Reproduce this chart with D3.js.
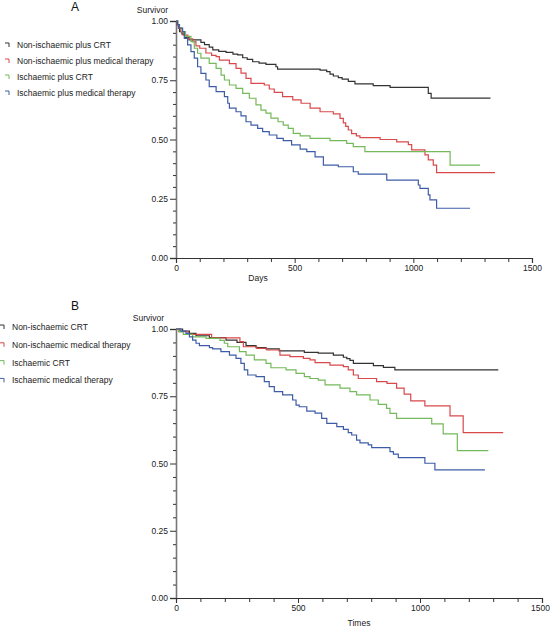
<!DOCTYPE html>
<html><head><meta charset="utf-8">
<script src="https://cdn.jsdelivr.net/npm/d3@7"></script>
<style>
html,body{margin:0;padding:0;background:#fff;}
svg{display:block;font-family:"Liberation Sans",Arial,sans-serif;}
</style></head>
<body>
<svg id="chart" width="550" height="628"></svg>
<script>
// ---------- Data (days, survival) ----------
const seriesNamesA = ["Non-ischaemic plus CRT","Non-ischaemic plus medical therapy","Ischaemic plus CRT","Ischaemic plus medical therapy"];
const seriesNamesB = ["Non-ischaemic CRT","Non-ischaemic medical therapy","Ischaemic CRT","Ischaemic medical therapy"];
const seriesColors = ["#333333","#d9494b","#74b95a","#3e5ca6"];

const aNonIschCRT = [[0,1],[5,0.985],[10,0.97],[15,0.955],[25,0.945],[40,0.93],[55,0.92],[105,0.91],[120,0.9],[140,0.89],[155,0.878],[180,0.872],[211,0.868],[240,0.86],[260,0.857],[281,0.845],[300,0.838],[323,0.828],[350,0.822],[379,0.817],[421,0.807],[428,0.797],[607,0.793],[635,0.786],[649,0.776],[663,0.768],[684,0.761],[700,0.755],[726,0.745],[754,0.735],[831,0.727],[902,0.72],[1063,0.695],[1075,0.675],[1325,0.675]];
const aNonIschMed = [[0,1],[5,0.985],[12,0.97],[20,0.955],[30,0.94],[50,0.925],[70,0.913],[84,0.895],[100,0.885],[126,0.865],[150,0.855],[169,0.85],[183,0.835],[225,0.82],[253,0.8],[274,0.78],[295,0.758],[316,0.737],[372,0.73],[393,0.713],[414,0.699],[449,0.681],[492,0.667],[527,0.653],[565,0.632],[607,0.617],[663,0.608],[691,0.589],[705,0.57],[715,0.555],[726,0.54],[740,0.525],[760,0.515],[775,0.508],[860,0.5],[930,0.49],[979,0.478],[993,0.456],[1049,0.435],[1063,0.414],[1084,0.392],[1098,0.36],[1344,0.36]];
const aIschCRT = [[0,1],[8,0.985],[15,0.97],[25,0.955],[40,0.935],[63,0.913],[77,0.885],[91,0.864],[105,0.843],[140,0.821],[169,0.8],[190,0.772],[204,0.751],[225,0.73],[253,0.716],[281,0.695],[309,0.674],[337,0.646],[358,0.624],[379,0.611],[400,0.59],[430,0.575],[452,0.561],[473,0.547],[494,0.526],[523,0.515],[565,0.505],[649,0.495],[719,0.484],[747,0.47],[796,0.449],[1155,0.392],[1281,0.392]];
const aIschMed = [[0,1],[7,0.985],[14,0.97],[28,0.955],[35,0.927],[49,0.899],[63,0.871],[77,0.843],[91,0.807],[105,0.779],[126,0.751],[140,0.723],[169,0.702],[204,0.681],[218,0.653],[225,0.632],[253,0.617],[274,0.6],[295,0.575],[316,0.561],[344,0.547],[365,0.533],[393,0.519],[425,0.505],[452,0.495],[487,0.477],[523,0.459],[551,0.449],[586,0.427],[621,0.392],[684,0.385],[747,0.364],[768,0.354],[888,0.329],[1021,0.308],[1028,0.294],[1063,0.266],[1070,0.245],[1098,0.21],[1239,0.21]];

const bNonIschCRT = [[0,1],[27,0.992],[55,0.984],[82,0.975],[137,0.968],[205,0.959],[250,0.95],[287,0.938],[328,0.931],[369,0.926],[423,0.919],[526,0.913],[583,0.91],[645,0.903],[686,0.895],[700,0.89],[713,0.883],[727,0.872],[809,0.864],[850,0.857],[897,0.848],[1321,0.848]];
const bNonIschMed = [[0,1],[15,0.99],[50,0.98],[146,0.967],[262,0.953],[276,0.934],[331,0.928],[372,0.922],[426,0.903],[467,0.897],[522,0.891],[549,0.885],[570,0.875],[631,0.866],[686,0.86],[706,0.848],[727,0.829],[747,0.816],[822,0.804],[865,0.798],[904,0.78],[935,0.758],[962,0.733],[1020,0.714],[1123,0.677],[1177,0.615],[1341,0.615]];
const bIschCRT = [[0,1],[10,0.99],[30,0.98],[68,0.971],[123,0.965],[180,0.958],[198,0.947],[212,0.934],[260,0.916],[287,0.903],[321,0.885],[369,0.872],[389,0.856],[451,0.848],[492,0.835],[526,0.823],[549,0.816],[583,0.81],[611,0.792],[672,0.78],[713,0.767],[740,0.755],[795,0.736],[829,0.72],[863,0.705],[877,0.686],[904,0.668],[1048,0.647],[1095,0.61],[1153,0.548],[1280,0.548]];
const bIschMed = [[0,1],[20,0.992],[41,0.984],[55,0.971],[68,0.959],[82,0.947],[96,0.938],[137,0.931],[150,0.926],[184,0.916],[219,0.903],[246,0.891],[266,0.872],[280,0.848],[294,0.829],[328,0.823],[362,0.804],[382,0.786],[403,0.767],[437,0.755],[478,0.736],[492,0.717],[505,0.711],[536,0.695],[570,0.687],[597,0.668],[618,0.649],[659,0.637],[686,0.627],[706,0.615],[720,0.606],[740,0.587],[754,0.577],[788,0.569],[802,0.559],[877,0.544],[891,0.535],[911,0.522],[1020,0.501],[1061,0.476],[1266,0.476]];

const yMajorTicks = [0, 0.25, 0.5, 0.75, 1.0];
const xMajorTicks = [0, 500, 1000, 1500];

// ---------- Drawing ----------
const svg = d3.select("#chart");

function panel(cfg){
  const g = svg.append("g");
  const x = d3.scaleLinear().domain([0,1500]).range([cfg.x0, cfg.x1]);
  const y = d3.scaleLinear().domain([0,1]).range([cfg.y0, cfg.y1]);

  // y axis
  const yAxis = d3.axisLeft(y).tickValues(yMajorTicks).tickFormat(d3.format(".2f")).tickSize(6).tickPadding(2);
  const ya = g.append("g").attr("transform",`translate(${cfg.x0},0)`).call(yAxis);
  ya.select(".domain").attr("stroke","#777").attr("stroke-width",1.6);
  ya.selectAll(".tick line").attr("stroke","#333");
  ya.selectAll(".tick text").attr("font-size",8.5).attr("fill","#222").attr("font-family","Liberation Sans, Arial, sans-serif");
  const yMinor = d3.range(0,1.0001,0.05).filter(v=>!yMajorTicks.some(m=>Math.abs(m-v)<1e-6));
  g.append("g").attr("transform",`translate(${cfg.x0},0)`).call(d3.axisLeft(y).tickValues(yMinor).tickFormat("").tickSize(3))
    .call(s=>{s.select(".domain").remove(); s.selectAll("line").attr("stroke","#333");});

  // x axis
  const xAxis = d3.axisBottom(x).tickValues(xMajorTicks).tickFormat(d3.format("d")).tickSize(5).tickPadding(2);
  const xa = g.append("g").attr("transform",`translate(0,${cfg.y0})`).call(xAxis);
  xa.select(".domain").attr("stroke","#333").attr("stroke-width",1.2);
  xa.selectAll(".tick line").attr("stroke","#333");
  xa.selectAll(".tick text").attr("font-size",8.5).attr("fill","#222").attr("font-family","Liberation Sans, Arial, sans-serif");
  // keep the last tick label inside the canvas
  xa.selectAll(".tick text").filter(d=>d===1500).attr("dx", cfg.lastDx || 0);
  const xMinor = d3.range(100,1500,100).filter(v=>v%500!==0);
  g.append("g").attr("transform",`translate(0,${cfg.y0})`).call(d3.axisBottom(x).tickValues(xMinor).tickFormat("").tickSize(4))
    .call(s=>{s.select(".domain").remove(); s.selectAll("line").attr("stroke","#333");});

  // labels
  g.append("text").attr("x",cfg.titleX).attr("y",cfg.titleY).attr("text-anchor","middle").attr("font-size",cfg.titleSize).attr("fill","#111").text(cfg.title);
  g.append("text").attr("x",cfg.survX).attr("y",cfg.survY).attr("text-anchor","end").attr("font-size",8.5).attr("fill","#222").text("Survivor");
  g.append("text").attr("x",cfg.xlabX).attr("y",cfg.xlabY).attr("text-anchor","middle").attr("font-size",8.5).attr("fill","#222").text(cfg.xlab);

  // curves
  const line = d3.line().x(d=>x(d[0])).y(d=>y(d[1])).curve(d3.curveStepAfter);
  cfg.series.forEach((s,i)=>{
    g.append("path").datum(s).attr("d",line).attr("fill","none")
      .attr("stroke",seriesColors[i]).attr("stroke-width",1.2);
  });

  // legend
  cfg.names.forEach((n,i)=>{
    const ly = cfg.legY + i*cfg.legStep;
    g.append("path").attr("d",`M${cfg.legSymX},${ly-2} h4 v4`).attr("fill","none").attr("stroke",seriesColors[i]).attr("stroke-width",1);
    g.append("text").attr("x",cfg.legTextX).attr("y",ly+3).attr("font-size",8.5).attr("fill","#222").text(n);
  });
}

panel({x0:176,x1:532,y0:258,y1:21,
  series:[aNonIschCRT,aNonIschMed,aIschCRT,aIschMed], names:seriesNamesA,
  title:"A", titleX:75, titleY:11, titleSize:12,
  survX:168, survY:13, xlab:"Days", xlabX:258, xlabY:281,
  legY:45, legStep:16, legSymX:5, legTextX:17, lastDx:0});

panel({x0:176,x1:542,y0:598,y1:329,
  series:[bNonIschCRT,bNonIschMed,bIschCRT,bIschMed], names:seriesNamesB,
  title:"B", titleX:75, titleY:310, titleSize:12,
  survX:164, survY:321, xlab:"Times", xlabX:359, xlabY:626,
  legY:327, legStep:17.8, legSymX:0, legTextX:12, lastDx:-2});
</script>
</body></html>
